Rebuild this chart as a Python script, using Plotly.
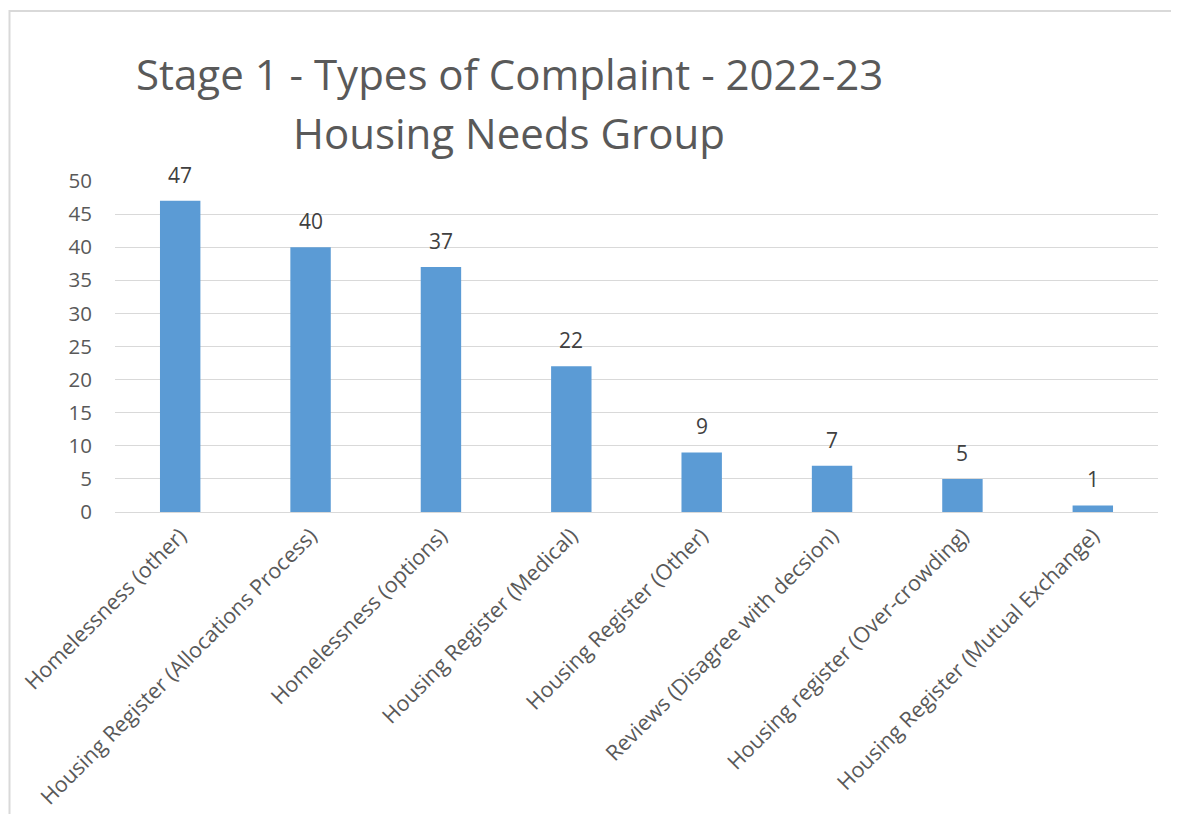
import plotly.graph_objects as go

categories = [
    "Homelessness (other)",
    "Housing Register (Allocations Process)",
    "Homelessness (options)",
    "Housing Register (Medical)",
    "Housing Register (Other)",
    "Reviews (Disagree with decsion)",
    "Housing register (Over-crowding)",
    "Housing Register (Mutual Exchange)",
]
values = [47, 40, 37, 22, 9, 7, 5, 1]
y_ticks = [0, 5, 10, 15, 20, 25, 30, 35, 40, 45, 50]
title_line1 = "Stage 1 - Types of Complaint - 2022-23"
title_line2 = "Housing Needs Group"

OFF = 8  # page body margin
W, H = 1179 - 2 * OFF, 822 - 2 * OFF
L, T = 115 - OFF, 181 - OFF
R = W - (1158 - OFF)
B = H - (512 - OFF)
pw, ph = W - L - R, H - T - B

def px_x(px):
    return (px - OFF - L) / pw

def px_y(py):
    return (H - B - (py - OFF)) / ph

FONT = "Open Sans"

fig = go.Figure()
fig.add_trace(go.Bar(
    x=categories, y=values,
    marker=dict(color="#5B9BD5", line=dict(width=0)),
    hoverinfo="x+y",
))

for c, v in zip(categories, values):
    fig.add_annotation(
        x=c, y=v, xref="x", yref="y", text=str(v), showarrow=False,
        yanchor="bottom", yshift=10,
        font=dict(family=FONT, size=21, color="#404040"),
    )

fig.add_annotation(
    x=px_x(509), y=px_y(74), xref="paper", yref="paper",
    text=title_line1, showarrow=False, xanchor="center", yanchor="middle",
    font=dict(family=FONT, size=42, color="#595959"),
)
fig.add_annotation(
    x=px_x(509), y=px_y(132), xref="paper", yref="paper",
    text=title_line2, showarrow=False, xanchor="center", yanchor="middle",
    font=dict(family=FONT, size=42, color="#595959"),
)

fig.add_shape(
    type="rect", xref="paper", yref="paper",
    x0=px_x(9.5), x1=px_x(1400), y0=px_y(11), y1=px_y(1100),
    line=dict(color="#D9D9D9", width=2), fillcolor="rgba(0,0,0,0)",
    layer="below",
)

fig.update_layout(
    width=W, height=H,
    margin=dict(l=L, r=R, t=T, b=B, autoexpand=False),
    paper_bgcolor="white", plot_bgcolor="white",
    bargap=0.69,
    showlegend=False,
    font=dict(family=FONT, color="#595959", size=21),
)
fig.update_xaxes(
    tickangle=-45, showgrid=False, showline=False, zeroline=False,
    tickfont=dict(family=FONT, size=21.5, color="#595959"),
    ticks="", ticklabelstandoff=6,
)
fig.update_yaxes(
    range=[0, 50], tickvals=y_ticks, showgrid=True, gridcolor="#D9D9D9",
    gridwidth=1.3, zeroline=True, zerolinecolor="#D9D9D9", zerolinewidth=1.3,
    showline=False, ticks="", ticklabelstandoff=22,
    tickfont=dict(family=FONT, size=20.5, color="#595959"),
)

fig.write_html("out.html")
